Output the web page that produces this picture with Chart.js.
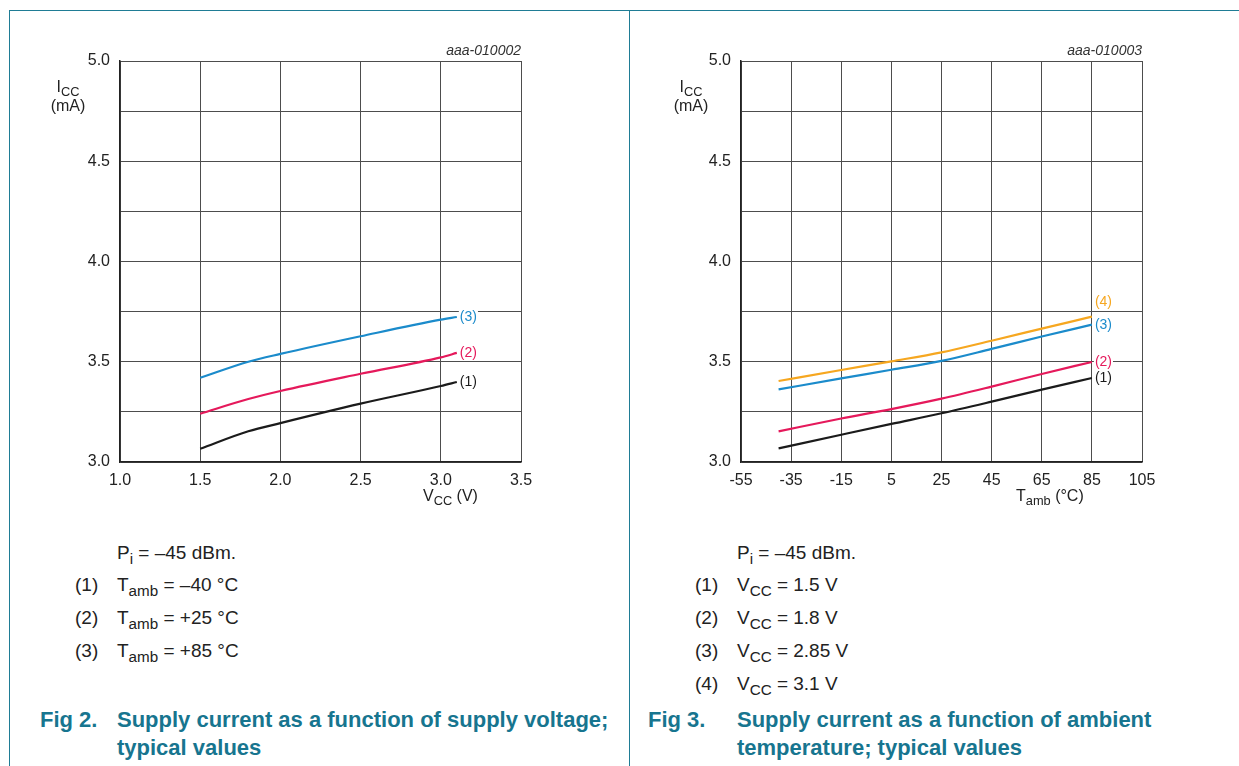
<!DOCTYPE html>
<html lang="en">
<head>
  <meta charset="UTF-8">
  <title>Supply current</title>
  <script src="https://cdn.jsdelivr.net/npm/chart.js"></script>
  <style>
    body {
      margin: 0;
      width: 1239px;
      height: 766px;
      overflow: hidden;
      background: #fff;
      font-family: "Liberation Sans", Arial, sans-serif;
      color: #222;
      position: relative;
    }
    .rule { position: absolute; background: #1f7c95; }
    .box { position: absolute; }
    .ytitle { position: absolute; width: 60px; text-align: center; font-size: 16px; line-height: 19px; }
    .xtitle { position: absolute; font-size: 16px; line-height: 18px; white-space: nowrap; }
    sub { font-size: 0.8em; vertical-align: -0.3em; line-height: 0; }
    .note { position: absolute; font-size: 19px; line-height: 22px; white-space: nowrap; }
    .note span.n { position: absolute; left: -42px; }
    .cap { position: absolute; font-size: 22px; font-weight: bold; color: #17758f; line-height: 28px; white-space: nowrap; }
  </style>
</head>
<body>
  <div class="rule" style="left:9px; top:10px; right:0; height:1px"></div>
  <div class="rule" style="left:9px; top:10px; bottom:0; width:1px"></div>
  <div class="rule" style="left:629px; top:10px; bottom:0; width:1px"></div>

  <div class="box" style="left:0; top:30px; width:620px; height:480px"><canvas id="vccChart"></canvas></div>
  <div class="box" style="left:620px; top:30px; width:619px; height:480px"><canvas id="tempChart"></canvas></div>

  <div class="ytitle" style="left:38px; top:77px">I<sub>CC</sub><br>(mA)</div>
  <div class="ytitle" style="left:661px; top:77px">I<sub>CC</sub><br>(mA)</div>
  <div class="xtitle" style="left:423px; top:487px">V<sub>CC</sub> (V)</div>
  <div class="xtitle" style="left:1016px; top:487px">T<sub>amb</sub> (°C)</div>

  <div class="note" style="left:117px; top:542px">P<sub>i</sub> = –45 dBm.</div>
  <div class="note" style="left:117px; top:574px"><span class="n">(1)</span>T<sub>amb</sub> = –40 °C</div>
  <div class="note" style="left:117px; top:607px"><span class="n">(2)</span>T<sub>amb</sub> = +25 °C</div>
  <div class="note" style="left:117px; top:640px"><span class="n">(3)</span>T<sub>amb</sub> = +85 °C</div>

  <div class="note" style="left:737px; top:542px">P<sub>i</sub> = –45 dBm.</div>
  <div class="note" style="left:737px; top:574px"><span class="n">(1)</span>V<sub>CC</sub> = 1.5 V</div>
  <div class="note" style="left:737px; top:607px"><span class="n">(2)</span>V<sub>CC</sub> = 1.8 V</div>
  <div class="note" style="left:737px; top:640px"><span class="n">(3)</span>V<sub>CC</sub> = 2.85 V</div>
  <div class="note" style="left:737px; top:673px"><span class="n">(4)</span>V<sub>CC</sub> = 3.1 V</div>

  <div class="cap" style="left:40px; top:706px">Fig 2.</div>
  <div class="cap" style="left:117px; top:706px">Supply current as a function of supply voltage;<br>typical values</div>
  <div class="cap" style="left:648px; top:706px">Fig 3.</div>
  <div class="cap" style="left:737px; top:706px">Supply current as a function of ambient<br>temperature; typical values</div>

  <script>
    // Fig 2: Icc vs Vcc
    const vccPoints = [1.5, 1.8, 2.0, 2.5, 3.0, 3.1];
    const iccTm40 = [3.066, 3.153, 3.194, 3.291, 3.379, 3.399];
    const iccT25 = [3.241, 3.314, 3.354, 3.440, 3.522, 3.544];
    const iccT85 = [3.420, 3.500, 3.539, 3.627, 3.710, 3.723];
    const vccTicks = [1.0, 1.5, 2.0, 2.5, 3.0, 3.5];

    // Fig 3: Icc vs Tamb
    const tempPoints = [-40, -15, 5, 25, 45, 65, 85];
    const iccV15 = [3.068, 3.136, 3.190, 3.243, 3.301, 3.361, 3.419];
    const iccV18 = [3.153, 3.217, 3.264, 3.316, 3.376, 3.439, 3.499];
    const iccV285 = [3.362, 3.417, 3.460, 3.504, 3.564, 3.626, 3.685];
    const iccV31 = [3.404, 3.459, 3.502, 3.547, 3.605, 3.665, 3.725];
    const tempTicks = [-55, -35, -15, 5, 25, 45, 65, 85, 105];

    const iccMin = 3.0, iccMax = 5.0, iccStep = 0.25;

    const BLACK = '#1b1b1b', RED = '#e5195b', BLUE = '#1b8bcb', ORANGE = '#f6a720';

    function toXY(xs, ys) {
      return xs.map((x, i) => ({ x: x, y: ys[i] }));
    }

    function series(label, xs, ys, color, dy) {
      return {
        label: label,
        data: toXY(xs, ys),
        borderColor: color,
        borderWidth: 2.2,
        pointRadius: 0,
        tension: 0.3,
        cubicInterpolationMode: 'monotone',
        tagOffset: dy
      };
    }

    // writes "(n)" at the end of each curve and the drawing code above the plot
    const curveTags = {
      id: 'curveTags',
      afterDatasetsDraw(chart, args, opts) {
        const ctx = chart.ctx;
        ctx.save();
        ctx.font = '14px "Liberation Sans", Arial, sans-serif';
        ctx.textBaseline = 'middle';
        ctx.textAlign = 'left';
        chart.data.datasets.forEach((ds, i) => {
          const pts = chart.getDatasetMeta(i).data;
          const last = pts[pts.length - 1];
          ctx.fillStyle = '#fff';
          const w = ctx.measureText(ds.label).width;
          ctx.fillRect(last.x + 2, last.y + ds.tagOffset - 7, w + 2, 14);
          ctx.fillStyle = ds.borderColor;
          ctx.fillText(ds.label, last.x + 3, last.y + ds.tagOffset);
        });
        ctx.font = 'italic 14px "Liberation Sans", Arial, sans-serif';
        ctx.fillStyle = '#333';
        ctx.textAlign = 'right';
        ctx.textBaseline = 'alphabetic';
        ctx.fillText(opts.code, chart.chartArea.right, chart.chartArea.top - 6);
        ctx.restore();
      }
    };

    function makeChart(id, datasets, xTicks, code, yWidth, padRight) {
      const tickFont = { family: '"Liberation Sans", Arial, sans-serif', size: 16 };
      return new Chart(document.getElementById(id), {
        type: 'line',
        data: { datasets: datasets },
        plugins: [curveTags],
        options: {
          responsive: true,
          maintainAspectRatio: false,
          animation: false,
          layout: { padding: { top: 31, right: padRight, left: 0, bottom: 0 } },
          plugins: {
            legend: { display: false },
            tooltip: { enabled: false },
            curveTags: { code: code }
          },
          scales: {
            x: {
              type: 'linear',
              min: xTicks[0],
              max: xTicks[xTicks.length - 1],
              ticks: {
                stepSize: xTicks[1] - xTicks[0],
                color: '#222',
                font: tickFont,
                padding: 9,
                maxRotation: 0,
                callback: v => Number.isInteger(xTicks[1] - xTicks[0]) ? String(v) : v.toFixed(1)
              },
              grid: { color: '#4d4d4d', lineWidth: 1, drawTicks: false },
              border: { color: '#222', width: 1.5 },
              afterFit: s => { s.height = 48; }
            },
            y: {
              min: iccMin,
              max: iccMax,
              ticks: {
                stepSize: iccStep,
                color: '#222',
                font: tickFont,
                padding: 10,
                callback: v => (Math.abs(v * 2 - Math.round(v * 2)) < 1e-6) ? v.toFixed(1) : ''
              },
              grid: { color: '#4d4d4d', lineWidth: 1, drawTicks: false },
              border: { color: '#222', width: 1.5 },
              afterFit: s => { s.width = yWidth; }
            }
          }
        }
      });
    }

    makeChart('vccChart', [
      series('(1)', vccPoints, iccTm40, BLACK, 0),
      series('(2)', vccPoints, iccT25, RED, 0),
      series('(3)', vccPoints, iccT85, BLUE, 0)
    ], vccTicks, 'aaa-010002', 120, 99);

    makeChart('tempChart', [
      series('(1)', tempPoints, iccV15, BLACK, 0),
      series('(2)', tempPoints, iccV18, RED, 0),
      series('(3)', tempPoints, iccV285, BLUE, 0),
      series('(4)', tempPoints, iccV31, ORANGE, -14)
    ], tempTicks, 'aaa-010003', 121, 97);
  </script>
</body>
</html>
